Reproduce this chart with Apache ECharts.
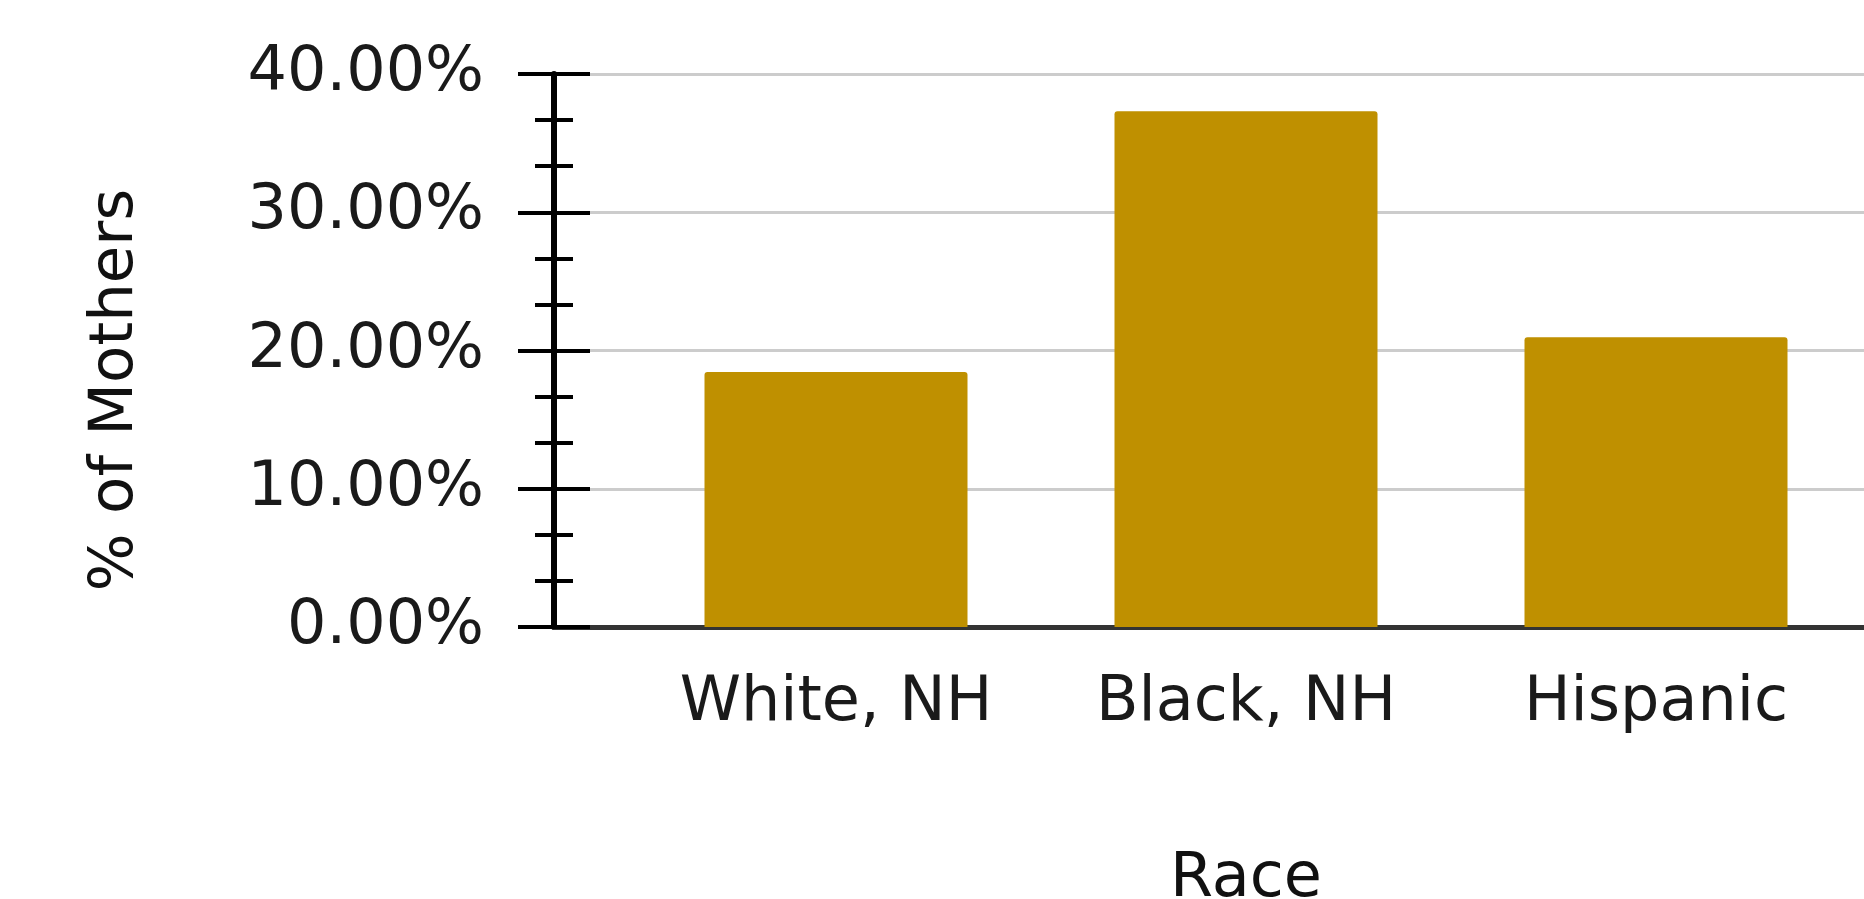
<!DOCTYPE html>
<html>
<head>
<meta charset="utf-8">
<title>% of Mothers by Race</title>
<script src="https://cdn.jsdelivr.net/npm/echarts@6/dist/echarts.min.js"></script>
<style>
  html, body { margin: 0; padding: 0; background: #fff; }
  #chart { width: 1864px; height: 899px; }
</style>
</head>
<body>
<div id="chart"></div>
<script>
// values
var races = ['White, NH', 'Black, NH', 'Hispanic'];
var pctMothers = [18.45, 37.3, 20.95];
var yMin = 0, yMax = 40, yStep = 10;

var chart = echarts.init(document.getElementById('chart'));

var font = 'DejaVu Sans';
var pctLabel = function (v) { return v.toFixed(2) + '%'; };

option = {
	animation: false,
	backgroundColor: '#fff',
	// grid 0 holds the y axis + gridlines, grid 1 holds the bars
	grid: [
		{ left: 554, right: 0, top: 74, bottom: 272, outerBoundsMode: 'none' },
		{ left: 631, right: 3, top: 74, bottom: 272, outerBoundsMode: 'none' }
	],
	xAxis: [
		{
			gridIndex: 0, type: 'value', min: 0, max: 1,
			axisLine: { show: true, lineStyle: { color: '#333', width: 5 } },
			axisTick: { show: false }, axisLabel: { show: false }, splitLine: { show: false }
		},
		{
			gridIndex: 1, type: 'category', data: races,
			axisLine: { show: false }, axisTick: { show: false },
			axisLabel: { margin: 46, color: '#1a1a1a', fontFamily: font, fontSize: 62 },
			name: 'Race', nameLocation: 'middle', nameGap: 222,
			nameTextStyle: { color: '#111', fontFamily: font, fontSize: 62 }
		}
	],
	yAxis: [
		{
			gridIndex: 0, type: 'value', min: yMin, max: yMax, interval: yStep,
			axisLine: { show: true, lineStyle: { color: '#000', width: 6 } },
			axisTick: { show: true, length: 36, lineStyle: { color: '#000', width: 4 } },
			minorTick: { show: true, splitNumber: 3, length: 19, lineStyle: { color: '#000', width: 4 } },
			axisLabel: { margin: 70, padding: [14, 0, 0, 0], formatter: pctLabel, color: '#1a1a1a', fontFamily: font, fontSize: 62 },
			splitLine: { show: true, lineStyle: { color: '#cccccc', width: 3 } }
		},
		{
			// same axis again, ticks drawn on the inner side so they cross the line
			gridIndex: 0, type: 'value', min: yMin, max: yMax, interval: yStep, position: 'left',
			axisLine: { show: false },
			axisTick: { show: true, inside: true, length: 36, lineStyle: { color: '#000', width: 4 } },
			minorTick: { show: true, splitNumber: 3, length: 19, lineStyle: { color: '#000', width: 4 } },
			axisLabel: { show: false }, splitLine: { show: false }
		},
		{
			gridIndex: 1, type: 'value', min: yMin, max: yMax, interval: yStep, show: false
		}
	],
	graphic: [
		{
			type: 'text', x: 116, y: 390, rotation: Math.PI / 2,
			style: {
				text: '% of Mothers', fill: '#111', font: '61px "DejaVu Sans"',
				textAlign: 'center', textVerticalAlign: 'middle'
			}
		}
	],
	series: [
		{
			name: '% of Mothers',
			type: 'bar',
			xAxisIndex: 1,
			yAxisIndex: 2,
			data: pctMothers,
			barWidth: 263,
			color: '#bf9000',
			itemStyle: { borderRadius: [3, 3, 0, 0] }
		}
	]
};

chart.setOption(option);
</script>
</body>
</html>
